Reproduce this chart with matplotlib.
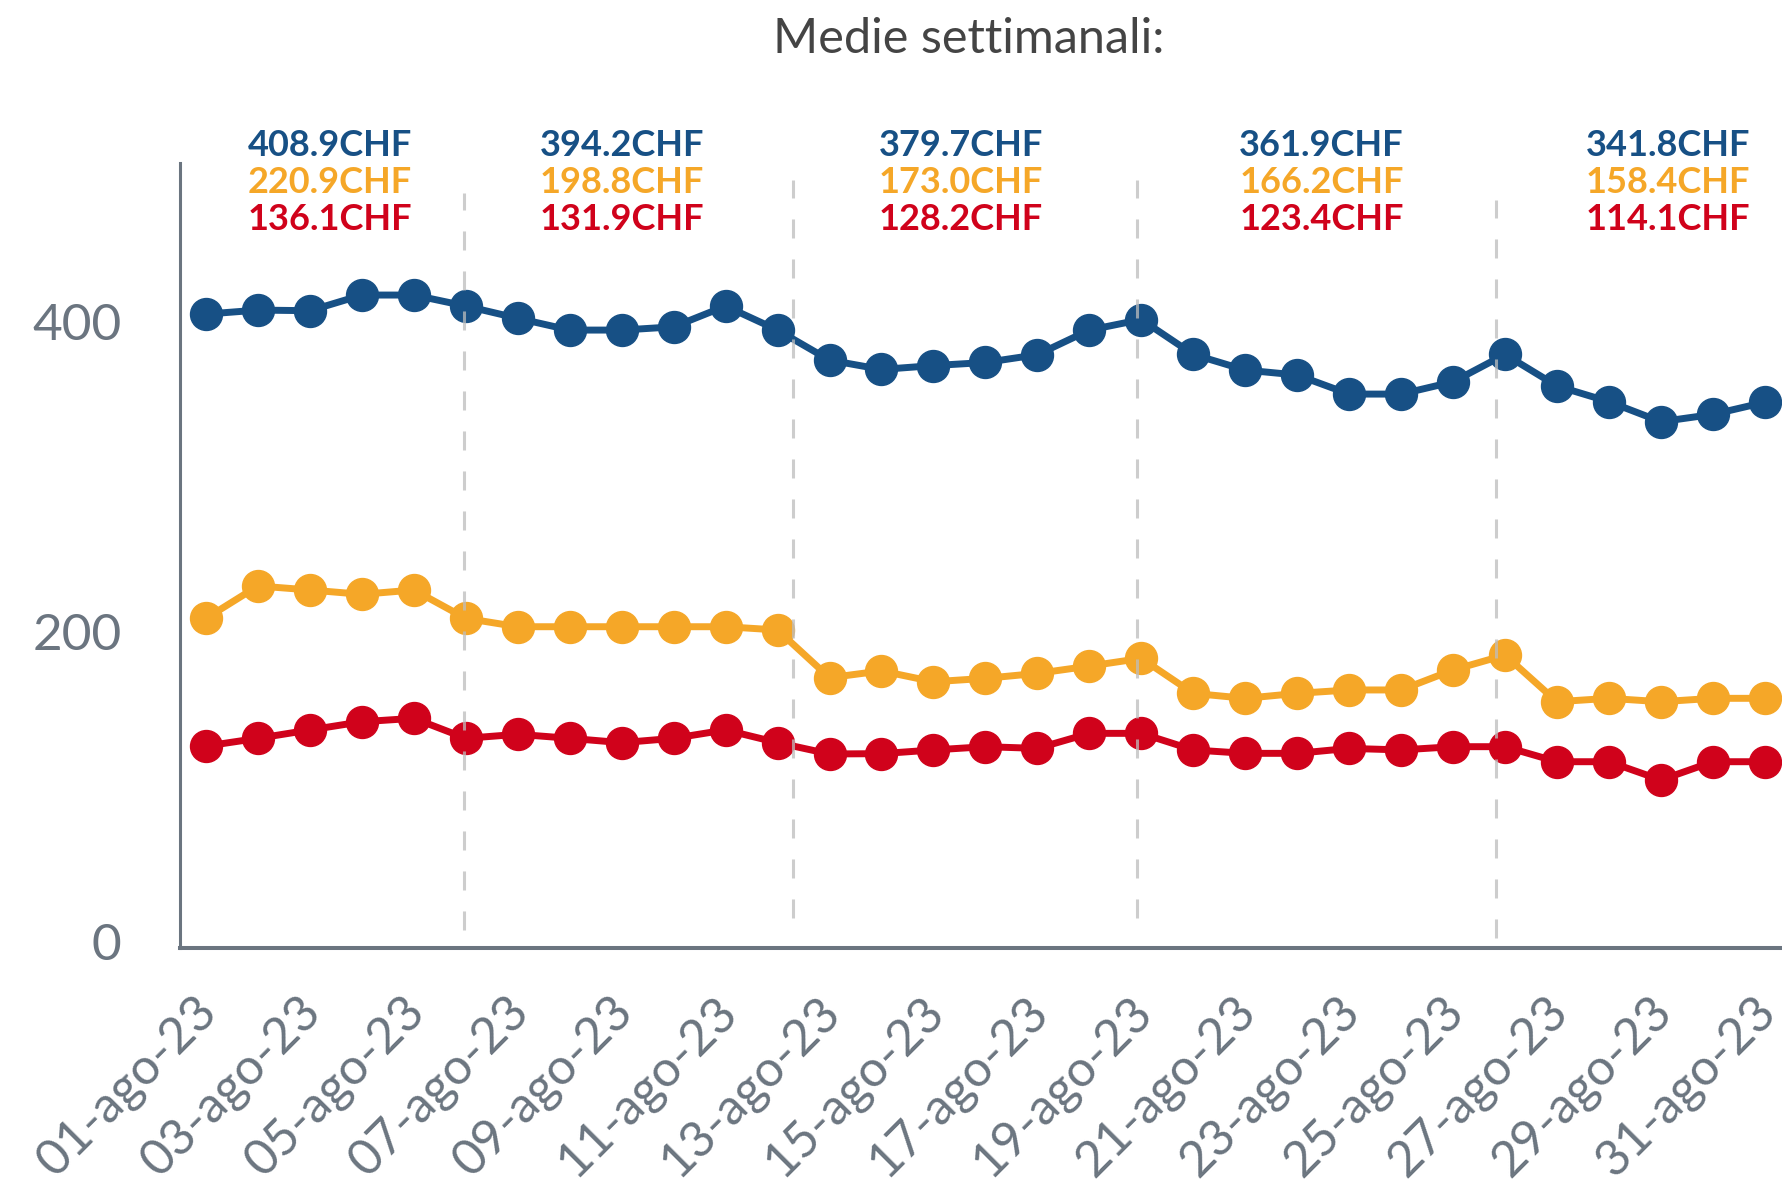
import matplotlib
matplotlib.use("Agg")
import matplotlib.pyplot as plt
import matplotlib.transforms as mtransforms
import numpy as np

# daily values, 1-31 Aug 2023
days = list(range(1, 32))
blue_vals = [404.7, 407.3, 406.9, 417.0, 417.0, 409.9, 402.0, 394.4, 394.4, 396.5,
             409.9, 394.4, 375.0, 369.0, 371.5, 373.5, 378.5, 394.4, 401.2, 378.7,
             368.6, 365.4, 353.1, 353.1, 361.0, 378.7, 358.3, 348.2, 335.3, 340.0, 347.8]
yellow_vals = [208.4, 229.3, 226.7, 223.9, 226.7, 208.4, 203.0, 203.0, 203.0, 203.0,
               203.0, 200.9, 170.1, 174.5, 167.5, 169.7, 172.9, 177.6, 182.6, 160.0,
               156.8, 160.0, 162.2, 162.2, 175.1, 184.7, 154.6, 156.8, 154.6, 156.8, 156.8]
red_vals = [126.0, 131.0, 136.4, 141.7, 143.9, 131.0, 133.6, 131.0, 128.2, 131.0,
            136.4, 128.2, 120.9, 121.1, 123.5, 125.6, 124.5, 134.2, 134.2, 123.5,
            121.3, 121.3, 124.5, 123.5, 125.6, 125.6, 115.9, 115.9, 104.1, 115.9, 115.9]

# weekly means shown above the plot
week_blue = ["408.9CHF", "394.2CHF", "379.7CHF", "361.9CHF", "341.8CHF"]
week_yellow = ["220.9CHF", "198.8CHF", "173.0CHF", "166.2CHF", "158.4CHF"]
week_red = ["136.1CHF", "131.9CHF", "128.2CHF", "123.4CHF", "114.1CHF"]

tick_days = days[::2]
tick_labels = ["%02d-ago-23" % d for d in tick_days]

# layout bits
week_label_x = [2.39, 8.0, 14.53, 21.47, 28.13]
week_breaks = [4.96, 11.29, 17.91, 24.82]
break_top = [482.8, 491.2, 491.2, 478.3]
break_bottom = [7.3, 15.1, 15.1, 2.2]

BLUE = "#175085"
YELLOW = "#F5A728"
RED = "#D0021B"
GREY = "#6B7580"

plt.rcParams['font.family'] = ['Lato', 'DejaVu Sans']
plt.rcParams['lines.scale_dashes'] = False

fig = plt.figure(figsize=(17.83, 11.91), dpi=100)
ax = fig.add_axes([180 / 1783, 1 - 947.7 / 1191, 1 - 180 / 1783, (947.7 - 163) / 1191])

x = np.arange(len(days))
for vals, col in [(blue_vals, BLUE), (yellow_vals, YELLOW), (red_vals, RED)]:
    ax.plot(x, vals, color=col, lw=5, marker='o', ms=23, zorder=3, clip_on=False)

for bx, top, bot in zip(week_breaks, break_top, break_bottom):
    ax.plot([bx, bx], [bot, top], color='#BDBDBD', lw=2.2, alpha=0.75,
            dashes=(13.7, 15.1), zorder=5, clip_on=False)

ax.set_xlim(-0.5, 30.35)
ax.set_ylim(-4.1, 502.2)

ax.set_yticks([0, 200, 400])
ax.set_yticklabels(["0", "200", "400"])
ax.set_xticks([d - 1 for d in tick_days])
ax.set_xticklabels(tick_labels, rotation=45, ha='right', va='center', rotation_mode='anchor')
ax.tick_params(axis='y', length=0, pad=42, labelsize=37, labelcolor=GREY)
ax.tick_params(axis='x', length=0, pad=41, labelsize=36, labelcolor=GREY)
shift = mtransforms.ScaledTranslation(4 / 100, 0, fig.dpi_scale_trans)
for lab in ax.get_xticklabels():
    lab.set_transform(lab.get_transform() + shift)

for s in ['top', 'right']:
    ax.spines[s].set_visible(False)
ax.spines['left'].set_color(GREY)
ax.spines['left'].set_linewidth(2.2)
ax.spines['bottom'].set_color(GREY)
ax.spines['bottom'].set_linewidth(2.9)

# weekly means text
trans = mtransforms.blended_transform_factory(ax.transData, fig.transFigure)
rows = [(week_blue, BLUE, 1 - 146 / 1191),
        (week_yellow, YELLOW, 1 - 182.5 / 1191),
        (week_red, RED, 1 - 219 / 1191)]
for labels, col, yy in rows:
    for wx, lab in zip(week_label_x, labels):
        ax.text(wx, yy, lab, transform=trans, color=col, fontsize=26,
                fontweight='bold', ha='center', va='center')

fig.text(969 / 1783, 1 - 39 / 1191, "Medie settimanali:", fontsize=35,
         color='#444444', ha='center', va='center')

fig.savefig('out.png', dpi=100)
